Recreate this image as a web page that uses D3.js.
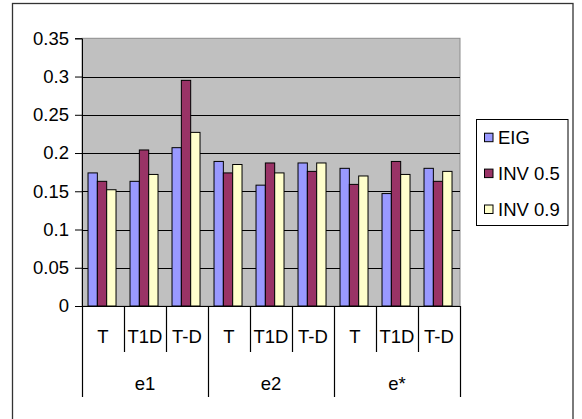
<!DOCTYPE html>
<html>
<head>
<meta charset="utf-8">
<script src="https://cdn.jsdelivr.net/npm/d3@7"></script>
<style>
  html, body { margin: 0; padding: 0; background: #fff; }
  svg { display: block; }
  text { font-family: "Liberation Sans", Arial, sans-serif; font-size: 18.5px; fill: #000; }
</style>
</head>
<body>
<svg id="chart" width="582" height="419"></svg>
<script>
// Groups and the sub-categories inside each group
const groups = ["e1", "e2", "e*"];
const subCategories = ["T", "T1D", "T-D"];
const seriesNames = ["EIG", "INV 0.5", "INV 0.9"];
const seriesColors = ["#9999FF", "#993366", "#FFFFCC"];
const yTicks = [0, 0.05, 0.1, 0.15, 0.2, 0.25, 0.3, 0.35];

// Values per series, in order e1:T,T1D,T-D, e2:T,T1D,T-D, e*:T,T1D,T-D
const eig    = [0.174, 0.163, 0.207, 0.189, 0.158, 0.187, 0.180, 0.147, 0.180];
const inv05  = [0.163, 0.204, 0.295, 0.174, 0.187, 0.176, 0.159, 0.189, 0.163];
const inv09  = [0.152, 0.172, 0.227, 0.185, 0.174, 0.187, 0.170, 0.172, 0.176];
const seriesValues = [eig, inv05, inv09];

const categories = [];
groups.forEach(g => subCategories.forEach(s => categories.push({ key: g + "|" + s, group: g, sub: s })));

const svg = d3.select("#chart");
const plot = { left: 82, right: 460, top: 38.3, bottom: 306 };

// outer chart frame
svg.append("rect")
  .attr("x", 12.5).attr("y", 3.5)
  .attr("width", 560.5).attr("height", 440)
  .attr("fill", "#fff").attr("stroke", "#333").attr("stroke-width", 1.3);

const y = d3.scaleLinear().domain([0, 0.35]).range([plot.bottom, plot.top]);
const x = d3.scaleBand().domain(categories.map(d => d.key)).range([plot.left, plot.right]).padding(0);
const xs = d3.scaleBand().domain(d3.range(seriesNames.length))
  .range([0, x.bandwidth()]).paddingInner(0).paddingOuter(0.75).align(0.43);

// plot area
svg.append("rect")
  .attr("x", plot.left).attr("y", plot.top)
  .attr("width", plot.right - plot.left).attr("height", plot.bottom - plot.top)
  .attr("fill", "#C0C0C0").attr("stroke", "#8c8c8c").attr("stroke-width", 1);

// horizontal gridlines
svg.append("g").selectAll("line")
  .data(yTicks.filter(t => t > 0 && t < 0.35))
  .join("line")
  .attr("x1", plot.left).attr("x2", plot.right)
  .attr("y1", d => Math.round(y(d)) + 0.5).attr("y2", d => Math.round(y(d)) + 0.5)
  .attr("stroke", "#000").attr("stroke-width", 1);

// bars
const barG = svg.append("g");
seriesValues.forEach((vals, si) => {
  barG.selectAll(null)
    .data(categories.map((c, i) => ({ c, v: vals[i] })))
    .join("rect")
    .attr("x", d => x(d.c.key) + xs(si))
    .attr("y", d => y(d.v))
    .attr("width", xs.bandwidth())
    .attr("height", d => y(0) - y(d.v))
    .attr("fill", seriesColors[si])
    .attr("stroke", "#000").attr("stroke-width", 1);
});

// value axis
const yAxis = d3.axisLeft(y).tickValues(yTicks).tickSize(7).tickPadding(6)
  .tickFormat(d => d3.format("")(+d.toFixed(2)));
const yg = svg.append("g").attr("transform", `translate(${plot.left},0)`).call(yAxis);
yg.select(".domain").attr("stroke", "#000");
yg.selectAll(".tick line").attr("stroke", "#000");
yg.selectAll(".tick text").style("font-size", "18.5px").attr("fill", "#000")
  .style("font-family", "'Liberation Sans', Arial, sans-serif");

// category axis: baseline, dividers, labels
const catG = svg.append("g");
catG.append("line")
  .attr("x1", plot.left).attr("x2", plot.right)
  .attr("y1", plot.bottom + 0.5).attr("y2", plot.bottom + 0.5)
  .attr("stroke", "#000");

const boundaries = categories.map((c, i) => ({ x: x(c.key), major: i % subCategories.length === 0 }));
boundaries.push({ x: plot.right, major: true });
catG.selectAll(".div")
  .data(boundaries)
  .join("line")
  .attr("x1", d => Math.round(d.x) + 0.5).attr("x2", d => Math.round(d.x) + 0.5)
  .attr("y1", plot.bottom)
  .attr("y2", d => d.major ? 397 : 352)
  .attr("stroke", "#000").attr("stroke-width", 1.2);

catG.selectAll(".sub")
  .data(categories)
  .join("text")
  .attr("x", d => x(d.key) + x.bandwidth() / 2)
  .attr("y", 342.5)
  .attr("text-anchor", "middle")
  .text(d => d.sub);

catG.selectAll(".grp")
  .data(groups)
  .join("text")
  .attr("x", g => {
    const first = x(g + "|" + subCategories[0]);
    return first + x.bandwidth() * subCategories.length / 2;
  })
  .attr("y", 390)
  .attr("text-anchor", "middle")
  .text(g => g);

// legend
const legend = svg.append("g");
legend.append("rect")
  .attr("x", 476.5).attr("y", 119.5).attr("width", 91.5).attr("height", 106)
  .attr("fill", "#fff").attr("stroke", "#000").attr("stroke-width", 1);
const legendY = d3.scalePoint().domain(seriesNames).range([137.7, 209.5]);
seriesNames.forEach((name, i) => {
  legend.append("rect")
    .attr("x", 484.5).attr("y", legendY(name) - 4.5)
    .attr("width", 8.5).attr("height", 8.5)
    .attr("fill", seriesColors[i]).attr("stroke", "#000").attr("stroke-width", 1);
  legend.append("text")
    .attr("x", 498).attr("y", legendY(name) + 6.7)
    .text(name);
});
</script>
</body>
</html>
